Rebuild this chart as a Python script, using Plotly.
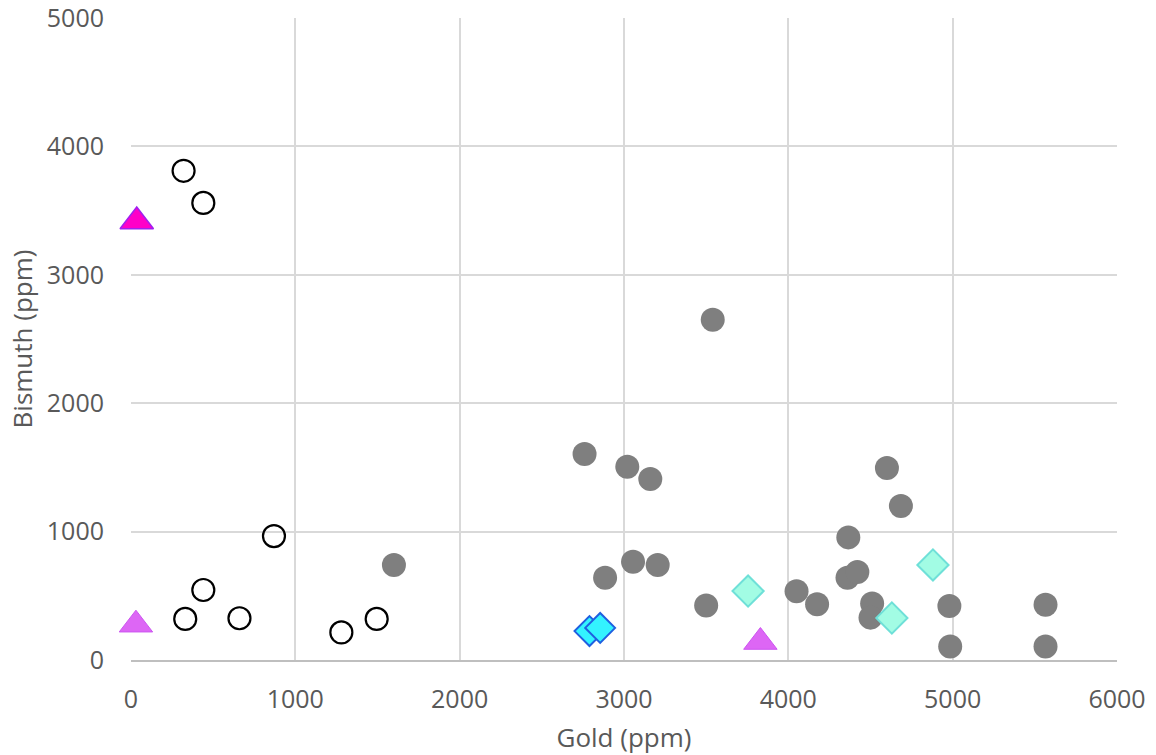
import plotly.graph_objects as go

# Gold (x) and bismuth (y) concentrations, ppm, per sample group
open_gold = [320, 440, 870, 440, 330, 660, 1280, 1495]
open_bi = [3810, 3560, 965, 545, 320, 325, 215, 320]

grey_gold = [1600, 2760, 3020, 3160, 3540, 2885, 3055, 3205, 3500, 4050, 4175,
             4365, 4360, 4420, 4510, 4500, 4600, 4685, 4980, 4985, 5565, 5565]
grey_bi = [740, 1605, 1505, 1410, 2650, 640, 765, 740, 425, 535, 435,
           955, 640, 685, 440, 330, 1495, 1200, 420, 105, 430, 105]

blue_gold = [2790, 2855]
blue_bi = [225, 250]

aqua_gold = [3755, 4630, 4880]
aqua_bi = [537, 327, 740]

lilac_gold = [30, 3830]
lilac_bi = [275, 140]

magenta_gold = [35]
magenta_bi = [3415]

x_ticks = [0, 1000, 2000, 3000, 4000, 5000, 6000]
y_ticks = [0, 1000, 2000, 3000, 4000, 5000]

fig = go.Figure()

fig.add_trace(go.Scatter(
    x=grey_gold, y=grey_bi, mode="markers", cliponaxis=False,
    marker=dict(symbol="circle", size=24, color="#7F7F7F",
                line=dict(width=0))))
fig.add_trace(go.Scatter(
    x=open_gold, y=open_bi, mode="markers", cliponaxis=False,
    marker=dict(symbol="circle", size=22, color="rgba(255,255,255,0)",
                line=dict(width=2.2, color="#000000"))))
fig.add_trace(go.Scatter(
    x=blue_gold, y=blue_bi, mode="markers", cliponaxis=False,
    marker=dict(symbol="diamond", size=23, color="#33F3FF",
                line=dict(width=2, color="#1F5FE0"))))
fig.add_trace(go.Scatter(
    x=aqua_gold, y=aqua_bi, mode="markers", cliponaxis=False,
    marker=dict(symbol="diamond", size=24, color="#A2FCE4",
                line=dict(width=2, color="#6FE0D8"))))
fig.add_trace(go.Scatter(
    x=lilac_gold, y=lilac_bi, mode="markers", cliponaxis=False,
    marker=dict(symbol="triangle-up", size=29, color="#DD66F5",
                line=dict(width=1, color="#CC55F0"))))
fig.add_trace(go.Scatter(
    x=magenta_gold, y=magenta_bi, mode="markers", cliponaxis=False,
    marker=dict(symbol="triangle-up", size=29, color="#FF00C8",
                line=dict(width=1.5, color="#A020F0"))))

font_family = "Open Sans"

fig.update_layout(
    width=1156, height=755,
    margin=dict(l=131, r=39, t=18, b=95, autoexpand=False),
    paper_bgcolor="white", plot_bgcolor="white",
    showlegend=False,
    font=dict(family=font_family, color="#595959"),
    xaxis=dict(
        range=[0, 6000], tickvals=x_ticks, ticktext=[str(v) for v in x_ticks],
        automargin=False, ticklabeloverflow="allow",
        showgrid=True, gridcolor="#D9D9D9", gridwidth=1.5,
        zeroline=False, showline=True, linecolor="#BFBFBF", linewidth=2,
        ticks="", ticklabelstandoff=16,
        tickfont=dict(family=font_family, size=25, color="#595959"),
        title=dict(text="Gold (ppm)", standoff=16,
                   font=dict(family=font_family, size=26, color="#595959")),
    ),
    yaxis=dict(
        range=[0, 5000], tickvals=y_ticks, ticktext=[str(v) for v in y_ticks],
        automargin=False, ticklabeloverflow="allow",
        showgrid=True, gridcolor="#D9D9D9", gridwidth=1.5,
        zeroline=False, showline=False,
        ticks="", ticklabelstandoff=26,
        tickfont=dict(family=font_family, size=25, color="#595959"),
        title=dict(text="Bismuth (ppm)", standoff=6,
                   font=dict(family=font_family, size=26, color="#595959")),
    ),
)

fig.write_html("out.html")
